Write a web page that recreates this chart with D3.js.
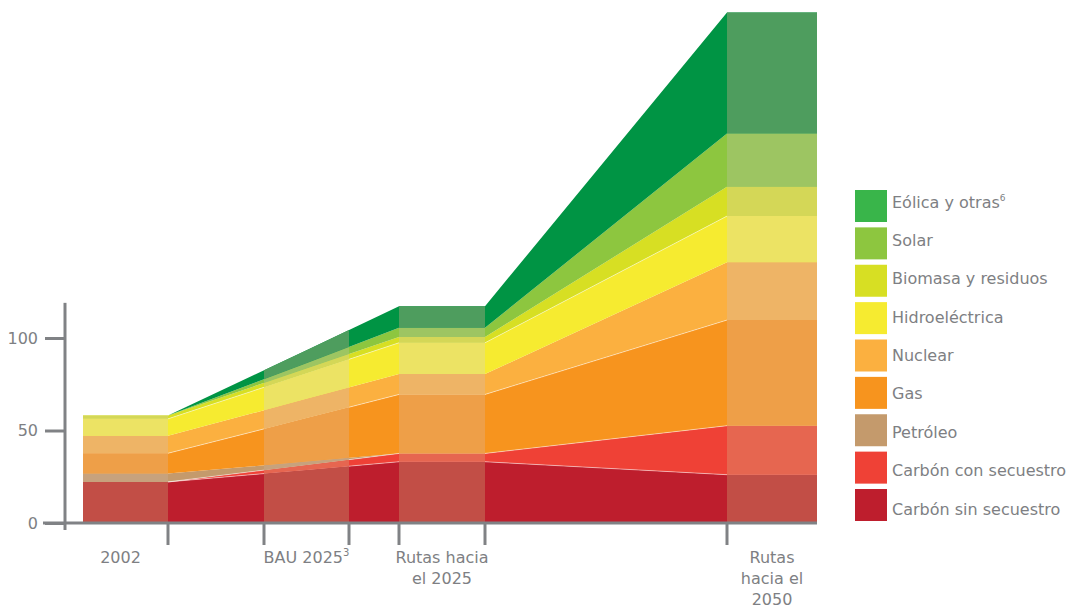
<!DOCTYPE html>
<html>
<head>
<meta charset="utf-8">
<script src="https://cdn.jsdelivr.net/npm/d3@7"></script>
<style>
  html, body { margin: 0; padding: 0; background: #ffffff; }
  svg { display: block; }
  text { font-family: "DejaVu Sans", Verdana, sans-serif; }
</style>
</head>
<body>
<svg id="chart" width="1078" height="610"></svg>
<script>
// ---------------- DATA ----------------
const categories = ["2002", "BAU 2025", "Rutas hacia el 2025", "Rutas hacia el 2050"];
const categoryLines = [["2002"], ["BAU 2025"], ["Rutas hacia", "el 2025"], ["Rutas", "hacia el", "2050"]];
const categorySup = ["", "3", "", ""];

const series = ["Carbón sin secuestro", "Carbón con secuestro", "Petróleo", "Gas", "Nuclear",
                "Hidroeléctrica", "Biomasa y residuos", "Solar", "Eólica y otras"];
const seriesSup = ["", "", "", "", "", "", "", "", "6"];

const carbonSin = [22.2, 28.7, 33.1, 26.1];
const carbonCon = [0.0, 2.7, 4.5, 26.5];
const petroleo  = [4.5, 1.8, 0.0, 0.0];
const gas       = [11.0, 23.5, 31.9, 57.1];
const nuclear   = [9.4, 10.4, 11.0, 31.2];
const hidro     = [9.2, 13.8, 16.9, 25.0];
const biomasa   = [1.8, 2.6, 3.2, 15.8];
const solar     = [0.0, 2.9, 4.9, 28.9];
const eolica    = [0.0, 7.0, 11.7, 65.3];

const yTicks = [0, 50, 100];

// ---------------- STYLE / LAYOUT ----------------
const flowColors  = ["#BE1E2D", "#EF4136", "#C49A6C", "#F7941E", "#FBB040", "#F6EB30", "#D7DF23", "#8DC63F", "#009444"];
const barColors   = ["#C24E46", "#E66650", "#C7A27D", "#EE9F48", "#EEB466", "#ECE364", "#D4D757", "#9DC562", "#4E9D5E"];
const legendColors= ["#BE1E2D", "#EF4136", "#C49A6C", "#F7941E", "#FBB040", "#F6EB30", "#D7DF23", "#8DC63F", "#39B54A"];
const seamSeries  = ["Carbón sin secuestro", "Carbón con secuestro", "Gas", "Hidroeléctrica"];
const gray = "#808285";
const textGray = "#7E7F83";
const flatCategory = [true, false, true, true]; // BAU shown as a band over the trajectory

const svg = d3.select("#chart");

const values = [carbonSin, carbonCon, petroleo, gas, nuclear, hidro, biomasa, solar, eolica];

const y = d3.scaleLinear().domain([0, 100]).range([523, 338]);
const barLeft  = d3.scaleOrdinal().domain(categories).range([83, 264, 399, 727]);
const barRight = d3.scaleOrdinal().domain(categories).range([168, 349, 485, 817]);

// Build rows (trajectory vertices)
const rows = [];
categories.forEach((c, i) => {
  const base = {};
  series.forEach((s, k) => base[s] = values[k][i]);
  if (flatCategory[i]) {
    rows.push(Object.assign({ x: barLeft(c) }, base));
    rows.push(Object.assign({ x: barRight(c) }, base));
  } else {
    rows.push(Object.assign({ x: (barLeft(c) + barRight(c)) / 2 }, base));
  }
});

const stacked = d3.stack().keys(series)(rows);

const area = d3.area()
  .x(d => d.data.x)
  .y0(d => y(d[0]))
  .y1(d => y(d[1]));

const topLine = d3.line()
  .x(d => d.data.x)
  .y(d => y(d[1]));

// Flow (saturated)
const flow = svg.append("g").attr("class", "flow");
flow.selectAll("path.layer")
  .data(stacked)
  .join("path")
  .attr("class", "layer")
  .attr("fill", (d, i) => flowColors[i])
  .attr("d", area);

flow.selectAll("path.seam")
  .data(stacked.filter(d => seamSeries.includes(d.key)))
  .join("path")
  .attr("class", "seam")
  .attr("fill", "none")
  .attr("stroke", "rgba(255,255,255,0.6)")
  .attr("stroke-width", 0.8)
  .attr("d", topLine);

// Bars (muted), clipped to each category band
const defs = svg.append("defs");
categories.forEach((c, i) => {
  defs.append("clipPath").attr("id", "clip" + i)
    .append("rect")
    .attr("x", barLeft(c))
    .attr("y", 0)
    .attr("width", barRight(c) - barLeft(c))
    .attr("height", y(0));
});

const bars = svg.append("g").attr("class", "bars");
categories.forEach((c, i) => {
  bars.append("g")
    .attr("clip-path", `url(#clip${i})`)
    .selectAll("path")
    .data(stacked)
    .join("path")
    .attr("fill", (d, k) => barColors[k])
    .attr("d", area);
});

// ---------------- AXES ----------------
const axisG = svg.append("g").attr("class", "axes");

// y axis
const yAxis = d3.axisLeft(y).tickValues(yTicks).tickSize(20).tickPadding(7).tickFormat(d3.format("d"));
const yG = axisG.append("g").attr("transform", "translate(65,0)").call(yAxis);
yG.select(".domain").remove();
yG.selectAll(".tick line").attr("stroke", gray).attr("stroke-width", 3);
yG.selectAll(".tick text")
  .attr("fill", textGray)
  .style("font-size", "16px")
  .style("font-family", "'DejaVu Sans', Verdana, sans-serif");

axisG.append("line")
  .attr("x1", 65).attr("x2", 65)
  .attr("y1", y(119)).attr("y2", y(0) + 7)
  .attr("stroke", gray).attr("stroke-width", 3);

// x axis baseline
axisG.append("line")
  .attr("x1", 43).attr("x2", barRight(categories[categories.length - 1]))
  .attr("y1", y(0)).attr("y2", y(0))
  .attr("stroke", gray).attr("stroke-width", 3);

// x tick marks at band edges (inner edges)
const edges = [];
categories.forEach((c, i) => {
  if (i > 0) edges.push(barLeft(c));
  if (i < categories.length - 1) edges.push(barRight(c));
});
axisG.selectAll("line.xtick")
  .data(edges)
  .join("line")
  .attr("class", "xtick")
  .attr("x1", d => d).attr("x2", d => d)
  .attr("y1", y(0)).attr("y2", y(0) + 22)
  .attr("stroke", gray).attr("stroke-width", 3);

// category labels
const labels = axisG.selectAll("text.xlabel")
  .data(categories)
  .join("text")
  .attr("class", "xlabel")
  .attr("text-anchor", "middle")
  .attr("fill", textGray)
  .style("font-size", "16px");

labels.each(function (c, i) {
  const t = d3.select(this);
  const cx = (barLeft(c) + barRight(c)) / 2 - (i === 0 ? 5 : 0);
  categoryLines[i].forEach((line, j) => {
    t.append("tspan")
      .attr("x", cx)
      .attr("y", 563 + j * 21)
      .text(line);
    if (j === categoryLines[i].length - 1 && categorySup[i]) {
      t.append("tspan")
        .attr("dy", -7)
        .style("font-size", "10px")
        .text(categorySup[i]);
    }
  });
});

// ---------------- LEGEND ----------------
const legendOrder = series.map((s, i) => i).reverse();
const legSquareY = d3.scalePoint().domain(legendOrder).range([190, 489]);
const legTextY = d3.scalePoint().domain(legendOrder).range([207.5, 514.5]);

const legend = svg.append("g").attr("class", "legend");
legend.selectAll("rect")
  .data(legendOrder)
  .join("rect")
  .attr("x", 855)
  .attr("y", d => legSquareY(d))
  .attr("width", 32)
  .attr("height", 32)
  .attr("fill", d => legendColors[d]);

legend.selectAll("text")
  .data(legendOrder)
  .join("text")
  .attr("x", 892)
  .attr("y", d => legTextY(d))
  .attr("fill", textGray)
  .style("font-size", "16px")
  .each(function (d) {
    const t = d3.select(this);
    t.append("tspan").text(series[d]);
    if (seriesSup[d]) {
      t.append("tspan").attr("dy", -7).style("font-size", "9px").text(seriesSup[d]);
    }
  });
</script>
</body>
</html>
